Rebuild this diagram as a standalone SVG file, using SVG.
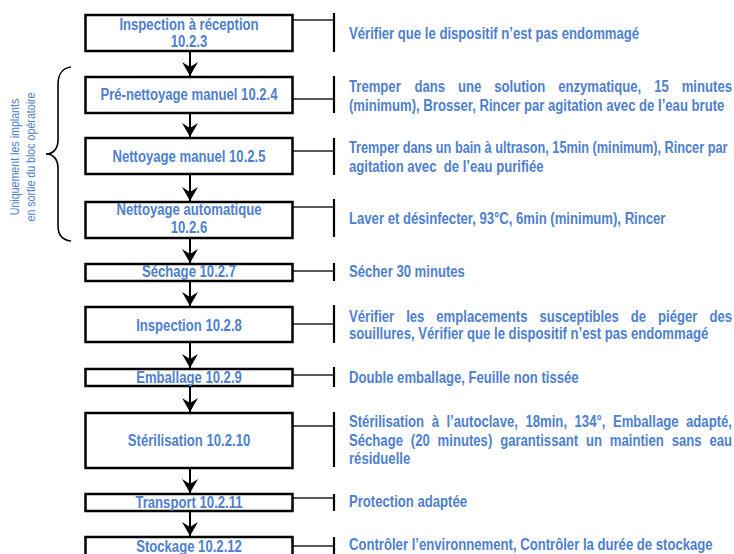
<svg xmlns="http://www.w3.org/2000/svg" width="734" height="554" viewBox="0 0 734 554">
<style>
.box{fill:#fff;stroke:#000;stroke-width:2.5}
.t{font-family:"Liberation Sans",Arial,sans-serif;font-weight:bold;font-size:16px;fill:#4E80CE}
.c{text-anchor:middle}
.side{font-family:"Liberation Sans",Arial,sans-serif;font-size:13px;fill:#4E80CE;text-anchor:middle}
.arrow{stroke:#000;stroke-width:2;fill:none;marker-end:url(#ah)}
.hl{stroke:#222;stroke-width:1.6}
.bar{stroke:#000;stroke-width:2.2}
.brace{fill:none;stroke:#000;stroke-width:1.6}
</style>
<defs>
<marker id="ah" markerUnits="userSpaceOnUse" markerWidth="16" markerHeight="16" refX="14" refY="8" orient="auto">
<path d="M0,0 L14,8 L0,16 L5,8 Z" fill="#000"/>
</marker>
</defs>

<g id="connectors">
<line class="arrow" x1="190" y1="52" x2="190" y2="76"/>
<line class="arrow" x1="190" y1="114" x2="190" y2="137"/>
<line class="arrow" x1="190" y1="175" x2="190" y2="201"/>
<line class="arrow" x1="190" y1="239" x2="190" y2="263"/>
<line class="arrow" x1="190" y1="282" x2="190" y2="306"/>
<line class="arrow" x1="190" y1="343" x2="190" y2="368"/>
<line class="arrow" x1="190" y1="387" x2="190" y2="412"/>
<line class="arrow" x1="190" y1="469" x2="190" y2="493"/>
<line class="arrow" x1="190" y1="512" x2="190" y2="536"/>

<line class="hl" x1="293" y1="20" x2="334" y2="20"/><line class="bar" x1="334" y1="13" x2="334" y2="52"/>
<line class="hl" x1="293" y1="99" x2="334" y2="99"/><line class="bar" x1="334" y1="76" x2="334" y2="113"/>
<line class="hl" x1="293" y1="151" x2="334" y2="151"/><line class="bar" x1="334" y1="138" x2="334" y2="175"/>
<line class="hl" x1="293" y1="207" x2="334" y2="207"/><line class="bar" x1="334" y1="199" x2="334" y2="237"/>
<line class="hl" x1="293" y1="271" x2="334" y2="271"/><line class="bar" x1="334" y1="263" x2="334" y2="281"/>
<line class="hl" x1="293" y1="324" x2="334" y2="324"/><line class="bar" x1="334" y1="305" x2="334" y2="343"/>
<line class="hl" x1="293" y1="375" x2="334" y2="375"/><line class="bar" x1="334" y1="367" x2="334" y2="387"/>
<line class="hl" x1="293" y1="426" x2="334" y2="426"/><line class="bar" x1="334" y1="412" x2="334" y2="467"/>
<line class="hl" x1="293" y1="498" x2="334" y2="498"/><line class="bar" x1="334" y1="494" x2="334" y2="511"/>
<line class="hl" x1="293" y1="546" x2="334" y2="546"/><line class="bar" x1="334" y1="537" x2="334" y2="556"/>

<path class="brace" d="M71,67 C63,68 58,74 58,84 L58,140 C58,149 53,154 46,154 C53,154 58,159 58,168 L58,226 C58,235 63,240 71,241"/>
</g>

<g id="note-implants">
<text class="side" transform="translate(19 157) rotate(-90) scale(0.82 1)">Uniquement les implants</text>
<text class="side" transform="translate(35 157) rotate(-90) scale(0.82 1)">en sortie du bloc opératoire</text>
</g>

<g id="n1"><rect class="box" x="85.5" y="15" width="207" height="36"/>
<text class="t c" transform="translate(189 0) scale(0.82 1)"><tspan x="0" y="30">Inspection à réception</tspan><tspan x="0" y="47.5">10.2.3</tspan></text></g>
<g id="n2"><rect class="box" x="85.5" y="77" width="207" height="36"/>
<text class="t c" transform="translate(189 100) scale(0.82 1)">Pré-nettoyage manuel 10.2.4</text></g>
<g id="n3"><rect class="box" x="85.5" y="138" width="207" height="36"/>
<text class="t c" transform="translate(189 162) scale(0.82 1)">Nettoyage manuel 10.2.5</text></g>
<g id="n4"><rect class="box" x="85.5" y="202" width="207" height="36"/>
<text class="t c" transform="translate(189 0) scale(0.82 1)"><tspan x="0" y="215">Nettoyage automatique</tspan><tspan x="0" y="233">10.2.6</tspan></text></g>
<g id="n5"><rect class="box" x="85.5" y="264" width="207" height="17"/>
<text class="t c" transform="translate(189 277) scale(0.82 1)">Séchage 10.2.7</text></g>
<g id="n6"><rect class="box" x="85.5" y="307" width="207" height="35"/>
<text class="t c" transform="translate(189 330.5) scale(0.82 1)">Inspection 10.2.8</text></g>
<g id="n7"><rect class="box" x="85.5" y="369" width="207" height="17"/>
<text class="t c" transform="translate(189 383) scale(0.82 1)">Emballage 10.2.9</text></g>
<g id="n8"><rect class="box" x="85.5" y="413" width="207" height="55"/>
<text class="t c" transform="translate(189 445.5) scale(0.82 1)">Stérilisation 10.2.10</text></g>
<g id="n9"><rect class="box" x="85.5" y="494" width="207" height="17"/>
<text class="t c" transform="translate(189 507.5) scale(0.82 1)">Transport 10.2.11</text></g>
<g id="n10"><rect class="box" x="85.5" y="537" width="207" height="25"/>
<text class="t c" transform="translate(189 552) scale(0.82 1)">Stockage 10.2.12</text></g>

<g id="d1"><text class="t" transform="translate(349 39.3) scale(0.82 1)">Vérifier que le dispositif n’est pas endommagé</text></g>
<g id="d2"><text class="t" transform="translate(349 0) scale(0.82 1)"><tspan x="0" y="92.3">Tremper</tspan> <tspan x="79.78" y="92.3">dans</tspan> <tspan x="132.88" y="92.3">une</tspan> <tspan x="177.09" y="92.3">solution</tspan> <tspan x="255.07" y="92.3">enzymatique,</tspan> <tspan x="372.19" y="92.3">15</tspan> <tspan x="405.74" y="92.3">minutes</tspan><tspan x="0" y="111">(minimum), Brosser, Rincer par agitation avec de l’eau brute</tspan></text></g>
<g id="d3"><text class="t" transform="translate(349 152.7) scale(0.795 1)">Tremper dans un bain à ultrason, 15min (minimum), Rincer par</text>
<text class="t" transform="translate(349 171.7) scale(0.82 1)" style="white-space:pre">agitation avec  de l’eau purifiée</text></g>
<g id="d4"><text class="t" transform="translate(349 224.3) scale(0.82 1)">Laver et désinfecter, 93°C, 6min (minimum), Rincer</text></g>
<g id="d5"><text class="t" transform="translate(349 277.3) scale(0.82 1)">Sécher 30 minutes</text></g>
<g id="d6"><text class="t" transform="translate(349 0) scale(0.82 1)"><tspan x="0" y="321.7">Vérifier</tspan> <tspan x="69.7" y="321.7">les</tspan> <tspan x="106.5" y="321.7">emplacements</tspan> <tspan x="232.21" y="321.7">susceptibles</tspan> <tspan x="343.7" y="321.7">de</tspan> <tspan x="376.93" y="321.7">piéger</tspan> <tspan x="439.51" y="321.7">des</tspan><tspan x="0" y="339.3">souillures, Vérifier que le dispositif n’est pas endommagé</tspan></text></g>
<g id="d7"><text class="t" transform="translate(349 382.7) scale(0.82 1)">Double emballage, Feuille non tissée</text></g>
<g id="d8"><text class="t" transform="translate(349 0) scale(0.82 1)"><tspan x="0" y="427.3">Stérilisation</tspan> <tspan x="100.78" y="427.3">à</tspan> <tspan x="118.87" y="427.3">l’autoclave,</tspan> <tspan x="215.22" y="427.3">18min,</tspan> <tspan x="275.1" y="427.3">134°,</tspan> <tspan x="321.84" y="427.3">Emballage</tspan> <tspan x="411.06" y="427.3">adapté,</tspan><tspan x="0" y="446">Séchage</tspan> <tspan x="75.38" y="446">(20</tspan> <tspan x="108.07" y="446">minutes)</tspan> <tspan x="184.3" y="446">garantissant</tspan> <tspan x="289.01" y="446">un</tspan> <tspan x="318.13" y="446">maintien</tspan> <tspan x="393.49" y="446">sans</tspan> <tspan x="439.51" y="446">eau</tspan><tspan x="0" y="464">résiduelle</tspan></text></g>
<g id="d9"><text class="t" transform="translate(349 507.3) scale(0.82 1)">Protection adaptée</text></g>
<g id="d10"><text class="t" transform="translate(349 550) scale(0.82 1)">Contrôler l’environnement, Contrôler la durée de stockage</text></g>
</svg>
